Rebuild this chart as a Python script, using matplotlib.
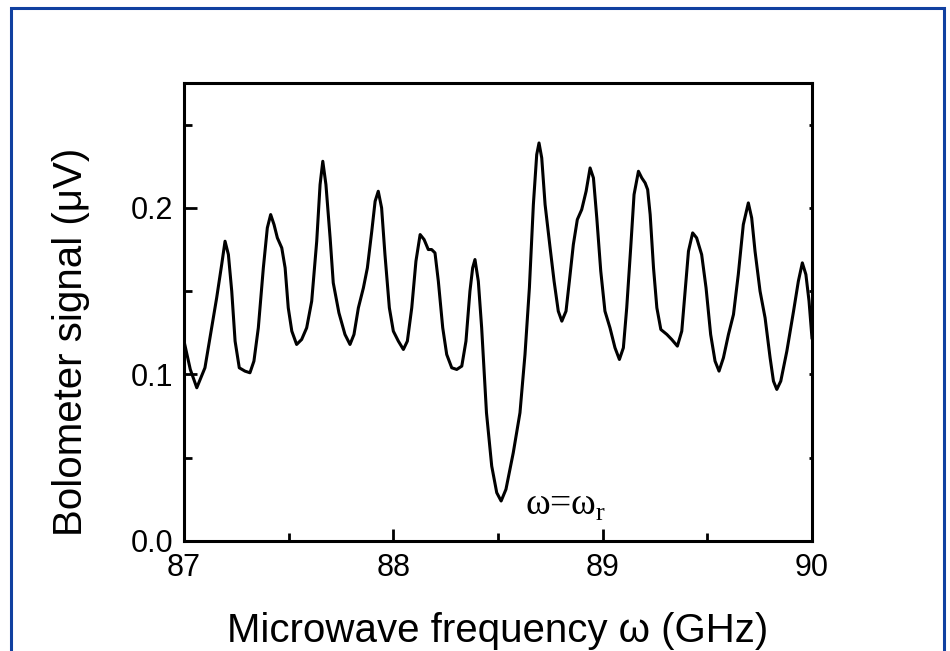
import matplotlib
matplotlib.use('Agg')
import matplotlib.pyplot as plt
from matplotlib.patches import Rectangle
import numpy as np

plt.rcParams['font.family'] = ['Liberation Sans', 'DejaVu Sans']

# bolometer trace (GHz, uV)
freq = [87.000, 87.030, 87.061, 87.100, 87.132, 87.156, 87.180, 87.196, 87.212, 87.228,
        87.244, 87.264, 87.291, 87.315, 87.334, 87.355, 87.379, 87.398, 87.414, 87.430,
        87.446, 87.467, 87.483, 87.498, 87.515, 87.538, 87.562, 87.586, 87.610, 87.634,
        87.650, 87.663, 87.678, 87.698, 87.713, 87.740, 87.769, 87.793, 87.812, 87.833,
        87.857, 87.876, 87.897, 87.913, 87.928, 87.944, 87.960, 87.981, 88.000, 88.024,
        88.048, 88.067, 88.088, 88.108, 88.128, 88.147, 88.167, 88.183, 88.199, 88.215,
        88.236, 88.255, 88.279, 88.303, 88.327, 88.347, 88.366, 88.379, 88.390, 88.406,
        88.422, 88.445, 88.470, 88.494, 88.515, 88.538, 88.573, 88.605, 88.629, 88.650,
        88.669, 88.685, 88.696, 88.709, 88.725, 88.749, 88.768, 88.788, 88.805, 88.825,
        88.841, 88.860, 88.879, 88.900, 88.921, 88.940, 88.956, 88.972, 88.991, 89.011,
        89.035, 89.059, 89.080, 89.099, 89.115, 89.134, 89.150, 89.171, 89.187, 89.203,
        89.215, 89.227, 89.243, 89.259, 89.278, 89.307, 89.330, 89.357, 89.378, 89.394,
        89.410, 89.430, 89.449, 89.473, 89.494, 89.516, 89.537, 89.556, 89.577, 89.601,
        89.625, 89.648, 89.672, 89.696, 89.712, 89.728, 89.752, 89.776, 89.800, 89.816,
        89.832, 89.851, 89.880, 89.912, 89.935, 89.954, 89.971, 89.986, 90.000]
signal = [0.120, 0.103, 0.092, 0.104, 0.128, 0.146, 0.166, 0.180, 0.172, 0.150,
          0.120, 0.104, 0.102, 0.101, 0.108, 0.128, 0.164, 0.188, 0.196, 0.190,
          0.182, 0.176, 0.164, 0.140, 0.126, 0.118, 0.121, 0.128, 0.144, 0.180,
          0.214, 0.228, 0.214, 0.182, 0.155, 0.137, 0.124, 0.118, 0.124, 0.140,
          0.152, 0.164, 0.186, 0.204, 0.210, 0.200, 0.172, 0.140, 0.126, 0.120,
          0.115, 0.120, 0.140, 0.168, 0.184, 0.181, 0.175, 0.175, 0.173, 0.156,
          0.128, 0.112, 0.104, 0.103, 0.105, 0.120, 0.150, 0.164, 0.169, 0.156,
          0.128, 0.077, 0.045, 0.029, 0.024, 0.031, 0.053, 0.077, 0.112, 0.152,
          0.202, 0.232, 0.239, 0.230, 0.202, 0.176, 0.156, 0.138, 0.132, 0.138,
          0.156, 0.178, 0.193, 0.199, 0.210, 0.224, 0.218, 0.194, 0.162, 0.138,
          0.128, 0.116, 0.109, 0.116, 0.140, 0.176, 0.208, 0.222, 0.218, 0.215,
          0.211, 0.196, 0.164, 0.140, 0.127, 0.124, 0.121, 0.117, 0.126, 0.150,
          0.174, 0.185, 0.182, 0.172, 0.152, 0.124, 0.108, 0.102, 0.110, 0.124,
          0.136, 0.160, 0.190, 0.203, 0.194, 0.174, 0.150, 0.134, 0.110, 0.096,
          0.091, 0.096, 0.114, 0.138, 0.156, 0.167, 0.160, 0.144, 0.122]

xticks = [87, 88, 89, 90]
yticks = [0.0, 0.1, 0.2]

fig = plt.figure(figsize=(9.5, 6.51), dpi=100)
fig.patches.append(Rectangle((11 / 950, -0.05), 933 / 950, 1.05 - 8 / 651,
                             transform=fig.transFigure, fill=False,
                             edgecolor='#1040a0', linewidth=2.2))

ax = fig.add_axes([0.1937, 0.169, 0.661, 0.7035])
ax.plot(freq, signal, color='black', linewidth=2.2)

ax.set_xlim(87, 90)
ax.set_ylim(0, 0.275)
ax.set_xticks(xticks)
ax.set_xticklabels([str(t) for t in xticks])
ax.set_xticks(np.arange(87.5, 90, 1.0), minor=True)
ax.set_yticks(yticks)
ax.set_yticklabels(['0.0', '0.1', '0.2'])
ax.set_yticks([0.05, 0.15, 0.25], minor=True)

for s in ax.spines.values():
    s.set_linewidth(2.2)
ax.tick_params(which='major', direction='in', length=9, width=2, labelsize=22)
ax.tick_params(which='minor', direction='in', length=5.5, width=2)
ax.tick_params(axis='x', which='major', pad=9)
ax.tick_params(axis='y', which='major', pad=8)

# small ticks on top and right
top = ax.secondary_xaxis('top')
top.set_xticks(np.arange(87.5, 90, 0.5))
top.tick_params(direction='in', length=1.5, width=1.5, labeltop=False)
right = ax.secondary_yaxis('right')
right.set_yticks(np.arange(0.05, 0.27, 0.05))
right.tick_params(direction='in', length=2.5, width=2, labelright=False)

ax.set_xlabel('Microwave frequency ω (GHz)', fontsize=29)
ax.xaxis.set_label_coords(0.5, -0.155)
ax.set_ylabel('Bolometer signal (μV)', fontsize=29)
ax.yaxis.set_label_coords(-0.15, 0.434)

ax.text(88.63, 0.016, 'ω=ω$_\\mathregular{r}$', fontsize=27,
        family=['Liberation Serif', 'DejaVu Serif'])

plt.savefig('out.png', dpi=100)
